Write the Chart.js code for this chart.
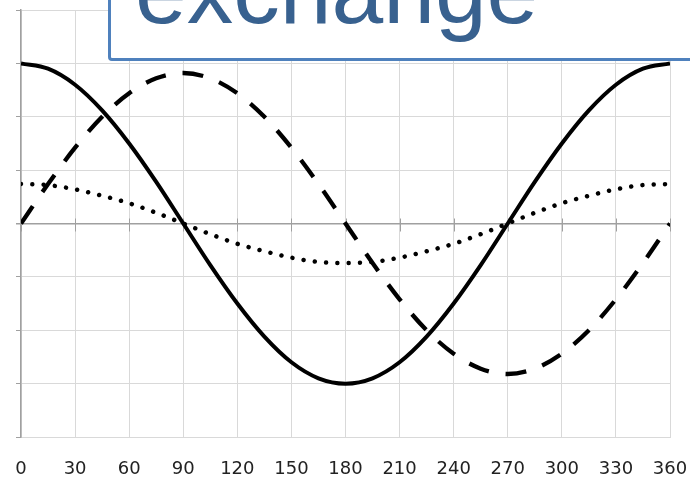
<!DOCTYPE html>
<html lang="en">
<head>
  <meta charset="UTF-8">
  <title>exchange</title>
  <script src="https://cdn.jsdelivr.net/npm/chart.js"></script>
  <style>
    body { margin: 0; background: #fff; overflow: hidden; }
    .wrap { position: relative; width: 690px; height: 478px; overflow: hidden; }
    canvas { position: absolute; left: 0; top: 0; }
    .label-box {
      position: absolute; left: 108px; top: -50px; width: 700px; height: 111px;
      box-sizing: border-box; border: 3px solid #4f81bd; border-radius: 4px; background: #fff;
    }
    .label-box span {
      position: absolute; left: 24px; top: -8px; line-height: 93px;
      font-family: 'Liberation Sans', Arial, sans-serif; font-size: 93px; color: #38618f; white-space: nowrap;
    }
  </style>
</head>
<body>
  <div class="wrap">
    <canvas id="waveChart" width="690" height="478"></canvas>
    <div class="label-box"><span>exchange</span></div>
  </div>

  <script>
    const angles = [0, 15, 30, 45, 60, 75, 90, 105, 120, 135, 150, 165, 180,
                    195, 210, 225, 240, 255, 270, 285, 300, 315, 330, 345, 360];
    const solidWave = [1.5, 1.45, 1.3, 1.06, 0.75, 0.39, 0, -0.39, -0.75, -1.06, -1.3, -1.45, -1.5,
                       -1.45, -1.3, -1.06, -0.75, -0.39, 0, 0.39, 0.75, 1.06, 1.3, 1.45, 1.5];
    const dashedWave = [0, 0.37, 0.71, 1.0, 1.22, 1.36, 1.41, 1.36, 1.22, 1.0, 0.71, 0.37, 0,
                        -0.37, -0.71, -1.0, -1.22, -1.36, -1.41, -1.36, -1.22, -1.0, -0.71, -0.37, 0];
    const dottedWave = [0.37, 0.36, 0.32, 0.26, 0.19, 0.1, 0, -0.1, -0.19, -0.26, -0.32, -0.36, -0.37,
                        -0.36, -0.32, -0.26, -0.19, -0.1, 0, 0.1, 0.19, 0.26, 0.32, 0.36, 0.37];

    const toPoints = vals => vals.map((v, i) => ({ x: angles[i], y: v }));
    const lineBase = { borderColor: '#000', pointRadius: 0, fill: false, cubicInterpolationMode: 'monotone' };

    // small cross tick marks on the zero line, placed via the x scale
    const zeroTicks = {
      id: 'zeroTicks',
      beforeDatasetsDraw(chart) {
        const { ctx, scales: { x, y } } = chart;
        const y0 = Math.round(y.getPixelForValue(0)) + 0.5;
        ctx.save();
        ctx.strokeStyle = '#a0a0a0';
        ctx.lineWidth = 1;
        ctx.beginPath();
        x.ticks.forEach(t => {
          const px = Math.round(x.getPixelForValue(t.value)) + 0.5;
          ctx.moveTo(px, y0 - 6);
          ctx.lineTo(px, y0 + 7);
        });
        ctx.stroke();
        ctx.restore();
      }
    };

    new Chart(document.getElementById('waveChart').getContext('2d'), {
      type: 'line',
      data: {
        datasets: [
          { ...lineBase, label: 'dotted', data: toPoints(dottedWave), borderWidth: 4.5, borderDash: [0.01, 11.3], borderCapStyle: 'round' },
          { ...lineBase, label: 'dashed', data: toPoints(dashedWave), borderWidth: 4.3, borderDash: [21, 17] },
          { ...lineBase, label: 'solid', data: toPoints(solidWave), borderWidth: 4 }
        ]
      },
      options: {
        responsive: false,
        animation: false,
        layout: { padding: { left: 16, right: 20, top: 10, bottom: 0 } },
        scales: {
          x: {
            type: 'linear', min: 0, max: 360,
            ticks: { stepSize: 30, autoSkip: false, maxRotation: 0, padding: 23, color: '#222',
                     font: { family: 'DejaVu Sans', size: 18, lineHeight: 1 } },
            grid: { color: '#d9d9d9', drawTicks: false },
            border: { color: '#d9d9d9' },
            afterFit: s => { s.height = 41; s.paddingLeft = 0; s.paddingRight = 0; }
          },
          y: {
            min: -2, max: 2,
            ticks: { stepSize: 0.5, display: false },
            grid: {
              color: c => c.tick && c.tick.value === 0 ? '#a0a0a0' : '#d9d9d9',
              lineWidth: c => c.tick && c.tick.value === 0 ? 1.5 : 1,
              tickLength: 5, tickColor: '#a0a0a0'
            },
            border: { color: '#a0a0a0', width: 1.5 },
            afterFit: s => { s.width = 5; s.paddingTop = 0; s.paddingBottom = 0; }
          }
        },
        plugins: { legend: { display: false }, tooltip: { enabled: false } }
      },
      plugins: [zeroTicks]
    });
  </script>
</body>
</html>
